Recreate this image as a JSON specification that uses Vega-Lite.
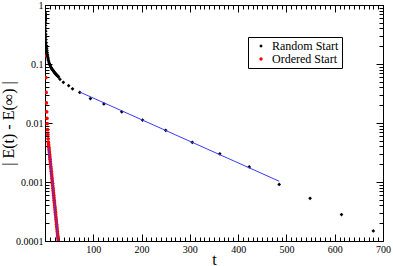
{
  "$schema": "https://vega.github.io/schema/vega-lite/v6.json",
  "width": 338,
  "height": 236,
  "autosize": {"type": "none"},
  "padding": {"left": 45, "top": 5, "right": 10, "bottom": 25},
  "background": "white",
  "config": {
    "font": "Liberation Serif",
    "view": {"stroke": "black"},
    "axis": {"domainColor": "black", "tickColor": "black", "labelColor": "black", "titleColor": "black", "grid": false, "labelFont": "Liberation Serif", "titleFont": "Liberation Serif", "labelFontSize": 10, "titleFontSize": 16, "titleFontWeight": "normal"}
  },
  "datasets": {
    "pts": [
      {"t": 0.1, "v": 0.75, "s": "Random Start"},
      {"t": 0.15, "v": 0.7, "s": "Random Start"},
      {"t": 0.2, "v": 0.72, "s": "Random Start"},
      {"t": 0.25, "v": 0.66, "s": "Random Start"},
      {"t": 0.3, "v": 0.69, "s": "Random Start"},
      {"t": 0.35, "v": 0.62, "s": "Random Start"},
      {"t": 0.4, "v": 0.66, "s": "Random Start"},
      {"t": 0.45, "v": 0.58, "s": "Random Start"},
      {"t": 0.5, "v": 0.63, "s": "Random Start"},
      {"t": 0.55, "v": 0.55, "s": "Random Start"},
      {"t": 0.6, "v": 0.6, "s": "Random Start"},
      {"t": 0.7, "v": 0.57, "s": "Random Start"},
      {"t": 0.8, "v": 0.54, "s": "Random Start"},
      {"t": 0.9, "v": 0.5, "s": "Random Start"},
      {"t": 1.0, "v": 0.45, "s": "Random Start"},
      {"t": 1.2, "v": 0.4, "s": "Random Start"},
      {"t": 1.4, "v": 0.36, "s": "Random Start"},
      {"t": 1.6, "v": 0.32, "s": "Random Start"},
      {"t": 1.8, "v": 0.29, "s": "Random Start"},
      {"t": 2.0, "v": 0.26, "s": "Random Start"},
      {"t": 2.5, "v": 0.23, "s": "Random Start"},
      {"t": 3.0, "v": 0.205, "s": "Random Start"},
      {"t": 3.5, "v": 0.185, "s": "Random Start"},
      {"t": 4.0, "v": 0.17, "s": "Random Start"},
      {"t": 4.5, "v": 0.157, "s": "Random Start"},
      {"t": 5.0, "v": 0.146, "s": "Random Start"},
      {"t": 5.5, "v": 0.136, "s": "Random Start"},
      {"t": 6.0, "v": 0.128, "s": "Random Start"},
      {"t": 6.5, "v": 0.121, "s": "Random Start"},
      {"t": 7, "v": 0.115, "s": "Random Start"},
      {"t": 8, "v": 0.108, "s": "Random Start"},
      {"t": 9, "v": 0.102, "s": "Random Start"},
      {"t": 10, "v": 0.097, "s": "Random Start"},
      {"t": 11, "v": 0.093, "s": "Random Start"},
      {"t": 12, "v": 0.089, "s": "Random Start"},
      {"t": 13, "v": 0.086, "s": "Random Start"},
      {"t": 14, "v": 0.083, "s": "Random Start"},
      {"t": 15, "v": 0.081, "s": "Random Start"},
      {"t": 16, "v": 0.079, "s": "Random Start"},
      {"t": 17, "v": 0.077, "s": "Random Start"},
      {"t": 18, "v": 0.075, "s": "Random Start"},
      {"t": 19, "v": 0.073, "s": "Random Start"},
      {"t": 20, "v": 0.071, "s": "Random Start"},
      {"t": 21, "v": 0.07, "s": "Random Start"},
      {"t": 22, "v": 0.068, "s": "Random Start"},
      {"t": 23, "v": 0.067, "s": "Random Start"},
      {"t": 24, "v": 0.065, "s": "Random Start"},
      {"t": 25, "v": 0.064, "s": "Random Start"},
      {"t": 26, "v": 0.063, "s": "Random Start"},
      {"t": 27, "v": 0.062, "s": "Random Start"},
      {"t": 28, "v": 0.06, "s": "Random Start"},
      {"t": 31, "v": 0.055, "s": "Random Start"},
      {"t": 38, "v": 0.049, "s": "Random Start"},
      {"t": 49, "v": 0.043, "s": "Random Start"},
      {"t": 57, "v": 0.038, "s": "Random Start"},
      {"t": 72, "v": 0.033, "s": "Random Start"},
      {"t": 94, "v": 0.026, "s": "Random Start"},
      {"t": 122, "v": 0.021, "s": "Random Start"},
      {"t": 159, "v": 0.0155, "s": "Random Start"},
      {"t": 202, "v": 0.0112, "s": "Random Start"},
      {"t": 250, "v": 0.0075, "s": "Random Start"},
      {"t": 305, "v": 0.0047, "s": "Random Start"},
      {"t": 362, "v": 0.003, "s": "Random Start"},
      {"t": 423, "v": 0.0018, "s": "Random Start"},
      {"t": 485, "v": 0.00091, "s": "Random Start"},
      {"t": 549, "v": 0.00053, "s": "Random Start"},
      {"t": 614, "v": 0.00028, "s": "Random Start"},
      {"t": 680, "v": 0.000148, "s": "Random Start"},
      {"t": 1.0, "v": 0.138, "s": "Ordered Start"},
      {"t": 1.6, "v": 0.059, "s": "Ordered Start"},
      {"t": 2.2, "v": 0.033, "s": "Ordered Start"},
      {"t": 2.8, "v": 0.022, "s": "Ordered Start"},
      {"t": 3.4, "v": 0.0155, "s": "Ordered Start"},
      {"t": 4.0, "v": 0.012, "s": "Ordered Start"},
      {"t": 4.6, "v": 0.0098, "s": "Ordered Start"},
      {"t": 5.2, "v": 0.0077, "s": "Ordered Start"},
      {"t": 5.8, "v": 0.0064, "s": "Ordered Start"},
      {"t": 6.4, "v": 0.0054, "s": "Ordered Start"},
      {"t": 7.0, "v": 0.00468, "s": "Ordered Start"},
      {"t": 7.5, "v": 0.00426, "s": "Ordered Start"},
      {"t": 8.0, "v": 0.00388, "s": "Ordered Start"},
      {"t": 8.5, "v": 0.00353, "s": "Ordered Start"},
      {"t": 9.0, "v": 0.00321, "s": "Ordered Start"},
      {"t": 9.5, "v": 0.00292, "s": "Ordered Start"},
      {"t": 10.0, "v": 0.00266, "s": "Ordered Start"},
      {"t": 10.5, "v": 0.00242, "s": "Ordered Start"},
      {"t": 11.0, "v": 0.00221, "s": "Ordered Start"},
      {"t": 11.5, "v": 0.00201, "s": "Ordered Start"},
      {"t": 12.0, "v": 0.00183, "s": "Ordered Start"},
      {"t": 12.5, "v": 0.00167, "s": "Ordered Start"},
      {"t": 13.0, "v": 0.00152, "s": "Ordered Start"},
      {"t": 13.5, "v": 0.00138, "s": "Ordered Start"},
      {"t": 14.0, "v": 0.00126, "s": "Ordered Start"},
      {"t": 14.5, "v": 0.00115, "s": "Ordered Start"},
      {"t": 15.0, "v": 0.00104, "s": "Ordered Start"},
      {"t": 15.5, "v": 0.000948, "s": "Ordered Start"},
      {"t": 16.0, "v": 0.000863, "s": "Ordered Start"},
      {"t": 16.5, "v": 0.000787, "s": "Ordered Start"},
      {"t": 17.0, "v": 0.000716, "s": "Ordered Start"},
      {"t": 17.5, "v": 0.000652, "s": "Ordered Start"},
      {"t": 18.0, "v": 0.000594, "s": "Ordered Start"},
      {"t": 18.5, "v": 0.000541, "s": "Ordered Start"},
      {"t": 19.0, "v": 0.000492, "s": "Ordered Start"},
      {"t": 19.5, "v": 0.000448, "s": "Ordered Start"},
      {"t": 20.0, "v": 0.000408, "s": "Ordered Start"},
      {"t": 20.5, "v": 0.000371, "s": "Ordered Start"},
      {"t": 21.0, "v": 0.000338, "s": "Ordered Start"},
      {"t": 21.5, "v": 0.000308, "s": "Ordered Start"},
      {"t": 22.0, "v": 0.00028, "s": "Ordered Start"},
      {"t": 22.5, "v": 0.000255, "s": "Ordered Start"},
      {"t": 23.0, "v": 0.000232, "s": "Ordered Start"},
      {"t": 23.5, "v": 0.000211, "s": "Ordered Start"},
      {"t": 24.0, "v": 0.000192, "s": "Ordered Start"},
      {"t": 24.5, "v": 0.000175, "s": "Ordered Start"},
      {"t": 25.0, "v": 0.00016, "s": "Ordered Start"},
      {"t": 25.5, "v": 0.000145, "s": "Ordered Start"},
      {"t": 26.0, "v": 0.000132, "s": "Ordered Start"},
      {"t": 26.5, "v": 0.00012, "s": "Ordered Start"},
      {"t": 27.0, "v": 0.00011, "s": "Ordered Start"},
      {"t": 27.5, "v": 0.0001, "s": "Ordered Start"}
    ],
    "fits": [
      {"t": 72, "v": 0.0335, "seg": "random"},
      {"t": 485, "v": 0.00103, "seg": "random"},
      {"t": 8, "v": 0.0039, "seg": "ordered"},
      {"t": 28, "v": 0.000088, "seg": "ordered"}
    ]
  },
  "layer": [
    {
      "data": {"name": "pts"},
      "mark": {"type": "point", "filled": true, "opacity": 1, "clip": true},
      "encoding": {
        "x": {"field": "t", "type": "quantitative", "scale": {"domain": [0, 700]},
          "axis": {"orient": "bottom", "values": [0,10,20,30,40,50,60,70,80,90,100,110,120,130,140,150,160,170,180,190,200,210,220,230,240,250,260,270,280,290,300,310,320,330,340,350,360,370,380,390,400,410,420,430,440,450,460,470,480,490,500,510,520,530,540,550,560,570,580,590,600,610,620,630,640,650,660,670,680,690,700],
            "labelExpr": "datum.value % 100 == 0 && datum.value > 0 ? datum.label : ''",
            "tickSize": {"condition": {"test": "datum.value % 100 == 0", "value": -7}, "value": -4},
            "labelPadding": 10, "title": "t", "titleY": 23, "titleBaseline": "alphabetic", "labelFlush": false}},
        "y": {"field": "v", "type": "quantitative", "scale": {"type": "log", "domain": [0.0001, 1]},
          "axis": {"orient": "left", "values": [0.0001,0.0002,0.0003,0.0004,0.0005,0.0006,0.0007,0.0008,0.0009,0.001,0.002,0.003,0.004,0.005,0.006,0.007,0.008,0.009,0.01,0.02,0.03,0.04,0.05,0.06,0.07,0.08,0.09,0.1,0.2,0.3,0.4,0.5,0.6,0.7,0.8,0.9,1],
            "format": "~g",
            "labelExpr": "indexof([0.0001,0.001,0.01,0.1,1], datum.value) >= 0 ? datum.label : ''",
            "tickSize": {"condition": {"test": "indexof([0.0001,0.001,0.01,0.1,1], datum.value) >= 0", "value": -7}, "value": -4},
            "labelPadding": 9, "title": "| E(t) - E(∞) |", "titleX": -37, "titleBaseline": "middle", "titleAnchor": "middle", "labelFlush": false}},
        "color": {"field": "s", "type": "nominal",
          "scale": {"domain": ["Random Start", "Ordered Start"], "range": ["black", "red"]},
          "legend": {"title": null, "orient": "none", "legendX": 203, "legendY": 32, "symbolType": "circle", "symbolSize": 12,
            "labelFont": "Liberation Serif", "labelFontSize": 12, "labelColor": "black", "strokeColor": "black", "fillColor": "white",
            "padding": 3, "rowPadding": 1, "labelOffset": 5, "symbolOffset": 4}},
        "shape": {"field": "s", "type": "nominal",
          "scale": {"domain": ["Random Start", "Ordered Start"], "range": ["diamond", "circle"]}, "legend": null},
        "size": {"value": 14},
        "order": {"field": "s", "sort": "ascending"}
      }
    },
    {
      "data": {"name": "fits"},
      "mark": {"type": "line", "color": "#3a3aff", "strokeWidth": 1, "clip": true},
      "encoding": {
        "x": {"field": "t", "type": "quantitative",
          "axis": {"orient": "top", "values": [0,10,20,30,40,50,60,70,80,90,100,110,120,130,140,150,160,170,180,190,200,210,220,230,240,250,260,270,280,290,300,310,320,330,340,350,360,370,380,390,400,410,420,430,440,450,460,470,480,490,500,510,520,530,540,550,560,570,580,590,600,610,620,630,640,650,660,670,680,690,700],
            "labels": false, "title": null,
            "tickSize": {"condition": {"test": "datum.value % 100 == 0", "value": -7}, "value": -4}}},
        "y": {"field": "v", "type": "quantitative",
          "axis": {"orient": "right", "values": [0.0001,0.0002,0.0003,0.0004,0.0005,0.0006,0.0007,0.0008,0.0009,0.001,0.002,0.003,0.004,0.005,0.006,0.007,0.008,0.009,0.01,0.02,0.03,0.04,0.05,0.06,0.07,0.08,0.09,0.1,0.2,0.3,0.4,0.5,0.6,0.7,0.8,0.9,1],
            "labels": false, "title": null,
            "tickSize": {"condition": {"test": "indexof([0.0001,0.001,0.01,0.1,1], datum.value) >= 0", "value": -7}, "value": -4}}},
        "detail": {"field": "seg"}
      }
    }
  ],
  "resolve": {"axis": {"x": "independent", "y": "independent"}}
}
